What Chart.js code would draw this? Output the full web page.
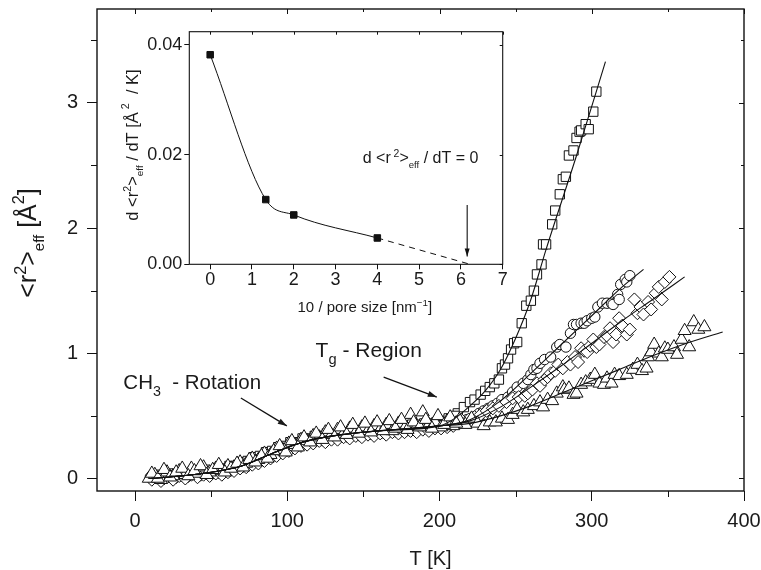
<!DOCTYPE html>
<html><head><meta charset="utf-8">
<script src="https://cdn.jsdelivr.net/npm/chart.js@4/dist/chart.umd.min.js"></script>
<style>
html,body{margin:0;padding:0;background:#fff;}
#wrap{position:relative;width:761px;height:570px;overflow:hidden;}
#main{position:absolute;left:0;top:0;}
#inset{position:absolute;left:115px;top:20px;}
</style></head><body>
<div id="wrap">
<canvas id="main" width="761" height="570"></canvas>
<canvas id="inset" width="400" height="300"></canvas>
</div>
<script>
const FONT = '"Liberation Sans", Arial, Helvetica, sans-serif';

// ---- main plot axes ----
const xTicks = [0, 100, 200, 300, 400];
const xMinor = [50, 150, 250, 350];
const yTicks = [0, 1, 2, 3];
const yMinor = [0.5, 1.5, 2.5, 3.5];

// ---- measured points [T (K), <r2>eff (A^2)] ----
const squares = [[12,0.00],[16,0.02],[20,0.01],[24,0.03],[28,0.02],[32,0.04],[36,0.03],[40,0.05],[44,0.04],[48,0.06],
[52,0.05],[56,0.07],[60,0.08],[64,0.08],[68,0.10],[72,0.12],[76,0.13],[80,0.15],[84,0.17],[88,0.19],
[92,0.21],[96,0.23],[100,0.25],[104,0.27],[108,0.28],[112,0.30],[116,0.31],[120,0.32],[124,0.33],[128,0.34],
[132,0.34],[136,0.36],[140,0.35],[144,0.37],[148,0.36],[152,0.38],[156,0.37],[160,0.39],[164,0.38],[168,0.40],
[172,0.39],[176,0.41],[180,0.40],[184,0.42],[188,0.41],[192,0.43],[196,0.42],[200,0.44],[204,0.45],[208,0.47],
[212,0.52],[216,0.57],[220,0.61],[223,0.63],[227,0.67],[230,0.70],[233,0.73],[236,0.76],[239,0.79],[241,0.88],
[243,0.91],[245,0.96],[247,1.03],[249,1.08],[251,1.09],[254,1.24],[257,1.38],[260,1.42],[262,1.50],[264,1.63],
[267,1.71],[268,1.87],[270,1.87],[274,2.03],[276,2.14],[279,2.27],[281,2.39],[283,2.41],[285,2.58],[288,2.62],
[290,2.72],[292,2.77],[293,2.78],[296,2.83],[298,2.79],[301,2.93],[303,3.09],
[14,0.03],[18,0.01],[22,0.04],[26,0.02],[30,0.05],[34,0.03],[38,0.06],[42,0.04],[46,0.07],[50,0.05],
[54,0.08],[58,0.07],[62,0.10],[66,0.10],[70,0.13],[74,0.14],[78,0.17],[82,0.18],[86,0.21],[90,0.22],
[94,0.25],[98,0.26],[102,0.29],[106,0.29],[110,0.32],[114,0.32],[118,0.34],[122,0.34],[126,0.36],[130,0.35],
[134,0.37],[138,0.37],[142,0.38],[146,0.38],[150,0.39],[154,0.39],[158,0.40],[162,0.40],[166,0.41],[170,0.41],
[174,0.42],[178,0.42],[182,0.43],[186,0.43],[190,0.44],[194,0.44],[198,0.45],[202,0.46],[206,0.48],[210,0.50]];

const circles = [[10,0.01],[14,0.00],[18,0.02],[22,0.01],[26,0.03],[30,0.02],[34,0.03],[38,0.04],[42,0.03],[46,0.05],
[50,0.04],[54,0.06],[58,0.06],[62,0.08],[66,0.09],[70,0.10],[74,0.12],[78,0.13],[82,0.16],[86,0.17],
[90,0.20],[94,0.21],[98,0.24],[102,0.25],[106,0.28],[110,0.28],[114,0.31],[118,0.31],[122,0.33],[126,0.32],
[130,0.35],[134,0.34],[138,0.36],[142,0.35],[146,0.37],[150,0.36],[154,0.38],[158,0.37],[162,0.39],[166,0.38],
[170,0.40],[174,0.39],[178,0.41],[182,0.40],[186,0.41],[190,0.42],[194,0.41],[198,0.43],[202,0.42],[206,0.44],
[210,0.44],[214,0.46],[218,0.47],[222,0.49],[226,0.52],[229,0.54],[232,0.56],[235,0.58],[238,0.60],[241,0.63],
[245,0.65],[248,0.69],[251,0.73],[255,0.76],[258,0.79],[260,0.83],[262,0.87],[264,0.88],[266,0.92],[269,0.95],
[273,0.97],[277,1.05],[279,1.07],[283,1.05],[286,1.16],[288,1.23],[290,1.23],[293,1.24],[295,1.24],[297,1.26],
[300,1.28],[302,1.29],[304,1.37],[307,1.40],[310,1.40],[313,1.40],[314,1.39],[317,1.47],[318,1.43],[319,1.55],
[322,1.59],[323,1.57],[325,1.62]];

const diamonds = [[11,-0.01],[15,0.01],[19,0.00],[23,0.02],[27,0.01],[31,0.03],[35,0.02],[39,0.04],[43,0.03],[47,0.04],
[51,0.05],[55,0.05],[59,0.07],[63,0.07],[67,0.09],[71,0.10],[75,0.12],[79,0.14],[83,0.15],[87,0.18],
[91,0.19],[95,0.22],[99,0.23],[103,0.26],[107,0.27],[111,0.29],[115,0.30],[119,0.32],[123,0.31],[127,0.33],
[131,0.33],[135,0.35],[139,0.34],[143,0.36],[147,0.35],[151,0.37],[155,0.36],[159,0.38],[163,0.37],[167,0.39],
[171,0.38],[175,0.40],[179,0.39],[183,0.41],[187,0.40],[191,0.42],[195,0.41],[199,0.42],[203,0.43],[207,0.43],
[211,0.45],[215,0.46],[219,0.47],[223,0.49],[227,0.51],[231,0.54],[235,0.56],[239,0.58],[244,0.61],[248,0.64],
[252,0.65],[256,0.66],[258,0.68],[261,0.71],[264,0.76],[266,0.74],[269,0.79],[271,0.81],[273,0.84],[276,0.86],
[278,0.91],[281,0.88],[284,0.93],[286,0.91],[289,0.97],[291,0.93],[293,1.04],[295,1.02],[297,1.01],[299,1.06],
[301,1.11],[303,1.05],[305,1.07],[308,1.13],[310,1.14],[312,1.20],[314,1.09],[316,1.15],[318,1.28],[320,1.22],
[323,1.15],[325,1.19],[328,1.43],[330,1.32],[332,1.37],[334,1.31],[337,1.41],[339,1.35],[342,1.48],[344,1.53],
[346,1.43],[348,1.57],[351,1.61],
[13,0.02],[17,-0.02],[21,0.01],[25,-0.01],[29,0.02],[33,0.00],[37,0.03],[41,0.01],[45,0.03],[49,0.02],
[53,0.04],[57,0.03],[61,0.05],[65,0.06],[69,0.08],[73,0.09],[77,0.11],[81,0.12],[85,0.14],[89,0.16],
[93,0.18],[97,0.20],[101,0.22],[105,0.24],[109,0.26],[113,0.27],[117,0.28],[121,0.30],[125,0.29],[129,0.31],
[133,0.31],[137,0.33],[141,0.32],[145,0.34],[149,0.33],[153,0.35],[157,0.34],[161,0.36],[165,0.35],[169,0.37],
[173,0.36],[177,0.37],[181,0.38],[185,0.37],[189,0.39],[193,0.38],[197,0.40],[201,0.40],[205,0.41],[209,0.42]];

const triangles = [[9,0.00],[13,0.03],[17,-0.01],[21,0.05],[25,0.02],[29,0.06],[33,0.03],[37,0.08],[41,0.04],[45,0.09],
[49,0.05],[53,0.08],[57,0.06],[61,0.10],[65,0.09],[69,0.13],[73,0.12],[77,0.16],[81,0.15],[85,0.20],
[89,0.19],[93,0.24],[97,0.23],[101,0.28],[105,0.27],[109,0.31],[113,0.30],[117,0.34],[121,0.33],[125,0.37],
[129,0.35],[133,0.39],[137,0.36],[141,0.40],[145,0.37],[149,0.41],[153,0.38],[157,0.42],[161,0.39],[165,0.43],
[169,0.38],[173,0.44],[177,0.40],[181,0.51],[185,0.42],[189,0.53],[193,0.43],[197,0.45],[201,0.41],[205,0.46],
[209,0.42],[213,0.47],[217,0.43],[221,0.48],[225,0.44],[229,0.42],[233,0.45],[237,0.45],[241,0.48],[245,0.47],
[248,0.51],[251,0.55],[255,0.53],[258,0.55],[262,0.58],[266,0.61],[268,0.57],[271,0.63],[274,0.62],[277,0.68],
[281,0.73],[282,0.71],[285,0.72],[288,0.67],[290,0.68],[293,0.75],[296,0.77],[299,0.79],[302,0.83],[305,0.76],
[308,0.75],[310,0.80],[313,0.76],[315,0.83],[318,0.82],[323,0.83],[327,0.87],[330,0.91],[333,0.86],[336,0.88],
[337,0.97],[339,1.01],[341,1.07],[344,1.00],[346,0.97],[348,1.04],[350,1.03],[354,1.05],[356,0.99],[359,1.11],
[361,1.18],[364,1.05],[367,1.25],[370,1.19],[374,1.21],
[11,0.04],[15,0.00],[19,0.07],[23,0.01],[27,0.05],[31,0.08],[35,0.02],[39,0.06],[43,0.10],[47,0.03],
[51,0.07],[55,0.11],[59,0.05],[63,0.08],[67,0.12],[71,0.09],[75,0.15],[79,0.13],[83,0.18],[87,0.16],
[91,0.22],[95,0.26],[99,0.21],[103,0.30],[107,0.25],[111,0.33],[115,0.29],[119,0.36],[123,0.31],[127,0.39],
[131,0.33],[135,0.41],[139,0.35],[143,0.43],[147,0.36],[151,0.44],[155,0.37],[159,0.45],[163,0.38],[167,0.46],
[171,0.40],[175,0.47],[179,0.39],[183,0.45],[187,0.41],[191,0.47],[195,0.40],[199,0.50],[203,0.43],[207,0.49],[211,0.44]];

// ---- fit curves ----
const fitLow = [[10,0.00],[30,0.02],[50,0.05],[70,0.10],[90,0.20],[110,0.29],[130,0.34],[160,0.38],[200,0.42]];
const fitSquares = [[210,0.48],[220,0.58],[230,0.70],[240,0.87],[250,1.12],[260,1.43],[270,1.83],[290,2.58],[309,3.33]];
const fitCircles = [[220,0.47],[240,0.62],[260,0.84],[280,1.07],[300,1.30],[320,1.53],[334,1.67]];
const fitDiamonds = [[220,0.46],[240,0.57],[260,0.73],[280,0.90],[300,1.08],[320,1.26],[340,1.43],[361,1.61]];
const fitTriangles = [[220,0.44],[240,0.50],[260,0.58],[280,0.68],[300,0.78],[320,0.88],[340,0.98],[360,1.07],[386,1.17]];

// ---- inset ----
const poreX = [0, 1.33, 2, 4];
const slopeY = [0.0382, 0.0118, 0.0090, 0.0048];
const extrapX = [4, 6.22];
const extrapY = [0.0048, 0.0];
const poreTicks = [0, 1, 2, 3, 4, 5, 6, 7];
const slopeTicks = [0, 0.02, 0.04];

const pts = arr => arr.map(p => ({x: p[0], y: p[1]}));
const zip = (xs, ys) => xs.map((v, i) => ({x: v, y: ys[i]}));

function rich(ctx, parts, x, y, base, align) {
  let w = 0;
  const ms = parts.map(p => { ctx.font = (base * p[1]).toFixed(1) + 'px ' + FONT; const m = ctx.measureText(p[0]).width; w += m; return m; });
  let cx = align === 'center' ? x - w / 2 : x;
  ctx.textBaseline = 'alphabetic'; ctx.textAlign = 'left';
  parts.forEach((p, i) => { ctx.font = (base * p[1]).toFixed(1) + 'px ' + FONT; ctx.fillText(p[0], cx, y + p[2] * base); cx += ms[i]; });
}
function arrow(ctx, x1, y1, x2, y2, head, wid) {
  ctx.beginPath(); ctx.moveTo(x1, y1); ctx.lineTo(x2, y2); ctx.stroke();
  const a = Math.atan2(y2 - y1, x2 - x1);
  ctx.beginPath();
  ctx.moveTo(x2, y2);
  ctx.lineTo(x2 - head * Math.cos(a) + wid * Math.sin(a), y2 - head * Math.sin(a) - wid * Math.cos(a));
  ctx.lineTo(x2 - head * Math.cos(a) - wid * Math.sin(a), y2 - head * Math.sin(a) + wid * Math.cos(a));
  ctx.closePath(); ctx.fill();
}

const mainDeco = {
  id: 'mainDeco',
  beforeDraw(chart) {
    const ctx = chart.ctx; ctx.save(); ctx.fillStyle = '#fff'; ctx.fillRect(0, 0, chart.width, chart.height); ctx.restore();
  },
  afterDraw(chart) {
    const {ctx, chartArea: a} = chart; const x = chart.scales.x, y = chart.scales.y;
    ctx.save();
    ctx.strokeStyle = '#111'; ctx.fillStyle = '#111'; ctx.lineWidth = 1;
    const L = (x1, y1, x2, y2) => { ctx.beginPath(); ctx.moveTo(x1, y1); ctx.lineTo(x2, y2); ctx.stroke(); };
    xMinor.forEach(v => { const p = Math.round(x.getPixelForValue(v)) + 0.5; L(p, a.bottom, p, a.bottom + 6); L(p, a.top, p, a.top + 3); });
    xTicks.forEach(v => { const p = Math.round(x.getPixelForValue(v)) + 0.5; L(p, a.top, p, a.top + 5); });
    yMinor.forEach(v => { const p = Math.round(y.getPixelForValue(v)) + 0.5; L(a.left - 6, p, a.left, p); L(a.right, p, a.right - 3, p); });
    yTicks.forEach(v => { const p = Math.round(y.getPixelForValue(v)) + 0.5; L(a.right, p, a.right - 5, p); });
    ctx.lineWidth = 1.4;
    ctx.strokeRect(a.left, a.top, a.right - a.left, a.bottom - a.top);
    // axis titles
    ctx.fillStyle = '#1a1a1a';
    rich(ctx, [['T [K]', 1, 0], ], (a.left + a.right) / 2 + 10, 565, 20, 'center');
    ctx.save();
    ctx.translate(27, 243); ctx.rotate(-Math.PI / 2);
    rich(ctx, [['<r', 1, 0], ['2', 0.65, -0.42], ['>', 1, 0], ['eff', 0.6, 0.3], [' [Å', 1, 0], ['2', 0.65, -0.5], [']', 1, 0]], 0, 9, 25, 'center');
    ctx.restore();
    // annotations
    rich(ctx, [['CH', 1, 0], ['3', 0.7, 0.33], ['  - Rotation', 1, 0]], x.getPixelForValue(-7.7), y.getPixelForValue(0.714), 20.5, 'left');
    rich(ctx, [['T', 1, 0], ['g', 0.7, 0.33], [' - Region', 1, 0]], x.getPixelForValue(118.6), y.getPixelForValue(0.97), 21, 'left');
    ctx.lineWidth = 1.3;
    arrow(ctx, x.getPixelForValue(69.5), y.getPixelForValue(0.643), x.getPixelForValue(99.7), y.getPixelForValue(0.42), 9, 3);
    arrow(ctx, x.getPixelForValue(163.3), y.getPixelForValue(0.81), x.getPixelForValue(198.2), y.getPixelForValue(0.65), 9, 3);
    ctx.restore();
  }
};

Chart.defaults.font.family = FONT;
Chart.defaults.color = '#1a1a1a';

const lineDs = (d) => ({data: pts(fitLow.concat(d)), showLine: true, borderColor: '#111', borderWidth: 1.1, pointRadius: 0, cubicInterpolationMode: 'monotone', fill: false, order: 0});
const markDs = (d, style, r, ord) => ({data: pts(d), pointStyle: style, pointRadius: r, backgroundColor: '#fff', borderColor: '#111', pointBorderWidth: 1, borderWidth: 1, order: ord});

new Chart(document.getElementById('main'), {
  type: 'scatter',
  data: {datasets: [
    lineDs(fitSquares), lineDs(fitCircles), lineDs(fitDiamonds), lineDs(fitTriangles),
    markDs(triangles, 'triangle', 7.5, 1),
    markDs(diamonds, 'rectRot', 6.5, 2),
    markDs(circles, 'circle', 5.2, 3),
    markDs(squares, 'rect', 6.6, 4)
  ]},
  options: {
    responsive: false, animation: false, devicePixelRatio: 1,
    layout: {padding: {top: 9, right: 17, left: 0, bottom: 0}},
    plugins: {legend: {display: false}, tooltip: {enabled: false}},
    scales: {
      x: {type: 'linear', min: -25, max: 400,
        afterBuildTicks: s => { s.ticks = xTicks.map(v => ({value: v})); },
        grid: {drawOnChartArea: false, tickLength: 10, color: '#111', lineWidth: 1},
        border: {display: false},
        ticks: {font: {size: 20}, color: '#1a1a1a', padding: 8, maxRotation: 0},
        afterFit: s => { s.height = 79; s.paddingLeft = 0; s.paddingRight = 0; }
      },
      y: {type: 'linear', min: -0.1, max: 3.75,
        afterBuildTicks: s => { s.ticks = yTicks.map(v => ({value: v})); },
        grid: {drawOnChartArea: false, tickLength: 10, color: '#111', lineWidth: 1},
        border: {display: false},
        ticks: {font: {size: 20}, color: '#1a1a1a', padding: 9},
        afterFit: s => { s.width = 97; s.paddingTop = 0; s.paddingBottom = 0; }
      }
    }
  },
  plugins: [mainDeco]
});

const insetDeco = {
  id: 'insetDeco',
  beforeDraw(chart) {
    const {ctx, chartArea: a} = chart; ctx.save(); ctx.fillStyle = '#fff'; ctx.fillRect(a.left, a.top, a.right - a.left, a.bottom - a.top); ctx.restore();
  },
  afterDraw(chart) {
    const {ctx, chartArea: a} = chart; const x = chart.scales.x, y = chart.scales.y;
    ctx.save();
    ctx.strokeStyle = '#111'; ctx.fillStyle = '#111'; ctx.lineWidth = 1;
    const L = (x1, y1, x2, y2) => { ctx.beginPath(); ctx.moveTo(x1, y1); ctx.lineTo(x2, y2); ctx.stroke(); };
    poreTicks.forEach(v => { const p = Math.round(x.getPixelForValue(v)) + 0.5; L(p, a.top, p, a.top + 3); });
    slopeTicks.forEach(v => { const p = Math.round(y.getPixelForValue(v)) + 0.5; L(a.right, p, a.right - 3, p); });
    ctx.lineWidth = 1.1;
    ctx.strokeRect(a.left, a.top, a.right - a.left, a.bottom - a.top);
    ctx.fillStyle = '#1a1a1a';
    rich(ctx, [['10 / pore size [nm', 1, 0], ['\u22121', 0.65, -0.45], [']', 1, 0]], x.getPixelForValue(3.7), a.bottom + 48, 15, 'center');
    ctx.save();
    ctx.translate(a.left - 57, (a.top + a.bottom) / 2 - 3); ctx.rotate(-Math.PI / 2);
    rich(ctx, [['d <r', 1, 0], ['2', 0.65, -0.42], ['>', 1, 0], ['eff', 0.6, 0.3], [' / dT [Å', 1, 0], [' 2', 0.65, -0.55], ['  / K]', 1, 0]], 0, 6, 16.5, 'center');
    ctx.restore();
    rich(ctx, [['d <r', 1, 0], [' 2', 0.65, -0.42], ['>', 1, 0], ['eff', 0.6, 0.3], [' / dT = 0', 1, 0]], x.getPixelForValue(3.65), y.getPixelForValue(0.0184), 16, 'left');
    ctx.fillStyle = '#111'; ctx.lineWidth = 1.1;
    arrow(ctx, x.getPixelForValue(6.15), y.getPixelForValue(0.0108), x.getPixelForValue(6.15), y.getPixelForValue(0.0014), 8, 2.5);
    ctx.restore();
  }
};

new Chart(document.getElementById('inset'), {
  type: 'scatter',
  data: {datasets: [
    {data: zip(poreX, slopeY), showLine: true, borderColor: '#111', borderWidth: 1, cubicInterpolationMode: 'monotone',
     pointStyle: 'rect', pointRadius: 4.6, backgroundColor: '#111', pointBorderColor: '#111', order: 0},
    {data: zip(extrapX, extrapY), showLine: true, borderColor: '#111', borderWidth: 1, borderDash: [6, 5], pointRadius: 0, order: 1}
  ]},
  options: {
    responsive: false, animation: false, devicePixelRatio: 1,
    layout: {padding: {top: 11.7, right: 12.3, left: 0, bottom: 0}},
    plugins: {legend: {display: false}, tooltip: {enabled: false}},
    scales: {
      x: {type: 'linear', min: -0.5, max: 7,
        afterBuildTicks: s => { s.ticks = poreTicks.map(v => ({value: v})); },
        grid: {drawOnChartArea: false, tickLength: 5, color: '#111'},
        border: {display: false},
        ticks: {font: {size: 18}, color: '#1a1a1a', padding: 0, maxRotation: 0},
        afterFit: s => { s.height = 55.7; s.paddingLeft = 0; s.paddingRight = 0; }
      },
      y: {type: 'linear', min: 0, max: 0.0424,
        afterBuildTicks: s => { s.ticks = slopeTicks.map(v => ({value: v})); },
        grid: {drawOnChartArea: false, tickLength: 5, color: '#111'},
        border: {display: false},
        ticks: {font: {size: 18}, color: '#1a1a1a', padding: 2, callback: v => Number(v).toFixed(2)},
        afterFit: s => { s.width = 74.3; s.paddingTop = 0; s.paddingBottom = 0; }
      }
    }
  },
  plugins: [insetDeco]
});
</script>
</body></html>
